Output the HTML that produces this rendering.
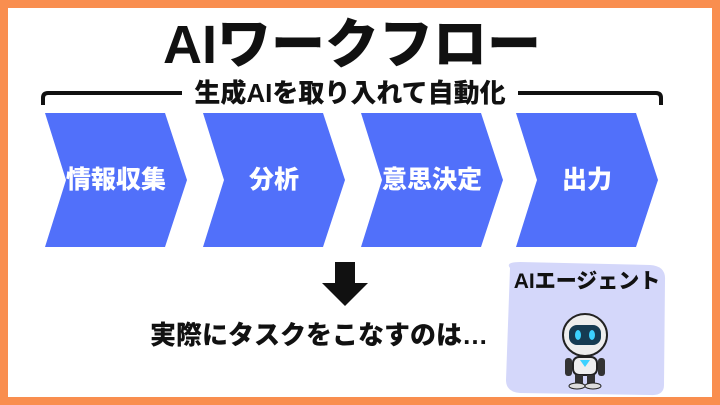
<!DOCTYPE html>
<html><head><meta charset="utf-8"><style>
body{margin:0;width:720px;height:405px;overflow:hidden;background:#F98E4F;font-family:"Liberation Sans","Noto Sans CJK JP",sans-serif;}
.in{position:absolute;left:8px;top:8px;width:704px;height:389px;background:#fff;}
.t{position:absolute;width:720px;text-align:center;font-weight:900;color:#111;white-space:nowrap;}
</style></head><body>
<div class="in"></div>
<svg style="position:absolute;left:0;top:0" width="720" height="405">
<path d="M43 105 V98 Q43 93 48 93 H182 M518 93 H656 Q661 93 661 98 V105" fill="none" stroke="#111" stroke-width="4"/>
<g fill="#5170FA">
<polygon points="45,113 165,113 187,180 165,247 45,247 66,180"/>
<polygon points="203,113 323,113 345,180 323,247 203,247 224,180"/>
<polygon points="361,113 481,113 503,180 481,247 361,247 382,180"/>
<polygon points="516,113 636,113 658,180 636,247 516,247 537,180"/>
</g>
<polygon points="335,262 355,262 355,283 368,283 345,306 322,283 335,283" fill="#111"/>
<path d="M510 268 Q505 262 520 262 L650 265 Q666 266 665 280 L664 385 Q664 396 650 395 L520 393 Q506 392 506 380 Z" fill="#D4D7FA"/>
<g transform="translate(585,345)">
<ellipse cx="0" cy="-10" rx="22" ry="21" fill="#eee" stroke="#222" stroke-width="2"/>
<rect x="-16" y="-20" width="32" height="20" rx="8" fill="#163b52"/>
<ellipse cx="-7" cy="-10" rx="3" ry="5" fill="#3cd2ff"/><ellipse cx="7" cy="-10" rx="3" ry="5" fill="#3cd2ff"/>
<rect x="-12" y="12" width="24" height="18" rx="6" fill="#eee" stroke="#222" stroke-width="2"/>
<path d="M-5 15 H5 L0 22 Z" fill="#3cd2ff"/>
<rect x="-20" y="13" width="7" height="18" rx="3" fill="#333"/><rect x="13" y="13" width="7" height="18" rx="3" fill="#333"/>
<rect x="-10" y="30" width="8" height="10" fill="#333"/><rect x="2" y="30" width="8" height="10" fill="#333"/>
<ellipse cx="-8" cy="41" rx="8" ry="3" fill="#ddd" stroke="#222"/><ellipse cx="8" cy="41" rx="8" ry="3" fill="#ddd" stroke="#222"/>
</g>
</svg>
<div class="t" style="left:-8px;top:14px;font-size:54px;line-height:62px;">AIワークフロー</div>
<div class="t" style="left:-10px;top:77px;font-size:26px;line-height:32px;">生成AIを取り入れて自動化</div>
<div class="t" style="left:45px;width:142px;top:164px;font-size:25px;color:#fff;line-height:32px;">情報収集</div>
<div class="t" style="left:203px;width:142px;top:164px;font-size:25px;color:#fff;line-height:32px;">分析</div>
<div class="t" style="left:361px;width:142px;top:164px;font-size:25px;color:#fff;line-height:32px;">意思決定</div>
<div class="t" style="left:516px;width:142px;top:164px;font-size:25px;color:#fff;line-height:32px;">出力</div>
<div class="t" style="left:139px;width:360px;top:319px;font-size:26px;line-height:32px;">実際にタスクをこなすのは…</div>
<div class="t" style="left:507px;width:160px;top:268px;font-size:21px;line-height:28px;">AIエージェント</div>
</body></html>
